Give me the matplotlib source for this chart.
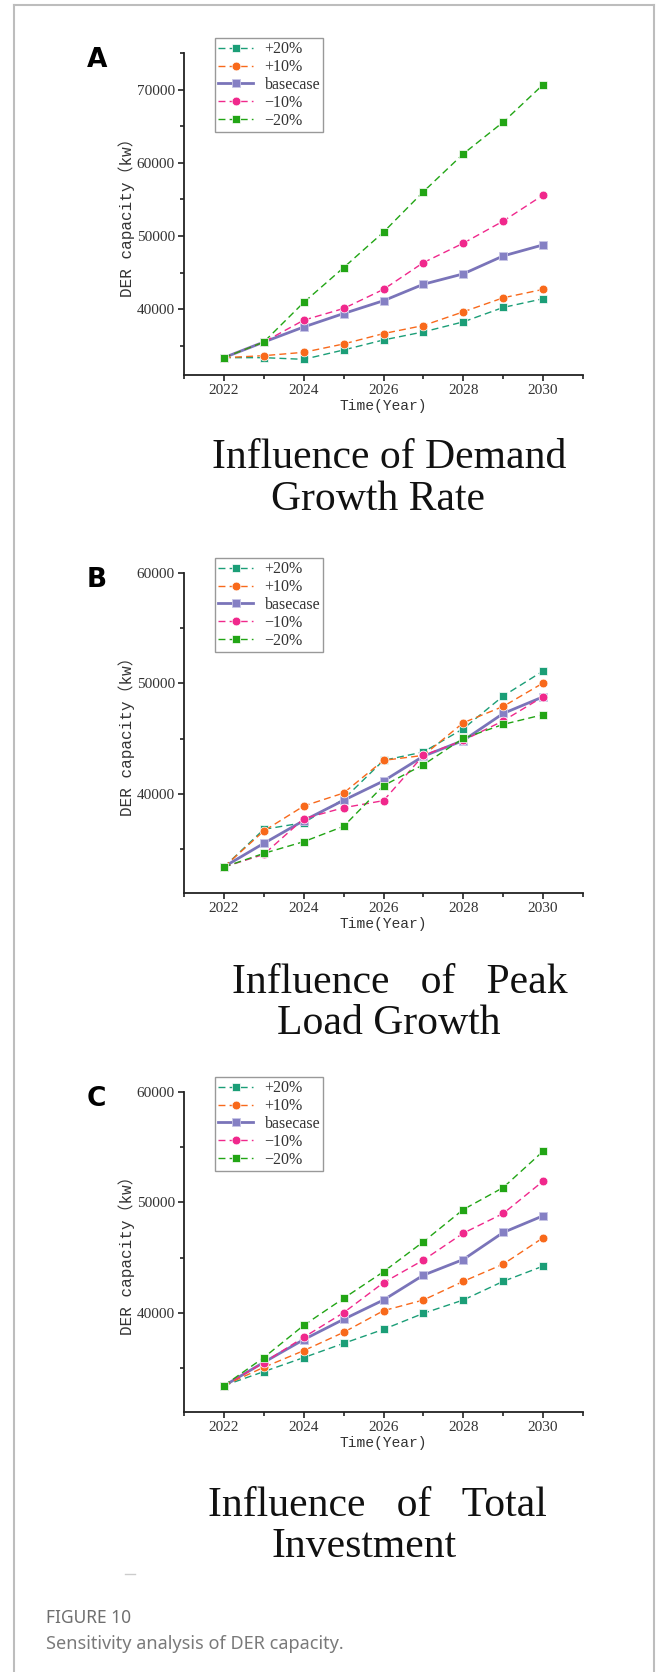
import matplotlib
matplotlib.use("Agg")
import matplotlib.pyplot as plt
from matplotlib.lines import Line2D
from matplotlib.ticker import MultipleLocator

# data
years = [2022, 2023, 2024, 2025, 2026, 2027, 2028, 2029, 2030]
labels = ["+20%", "+10%", "basecase", "\u221210%", "\u221220%"]
base_case = [33370, 35500, 37560, 39400, 41150, 43400, 44820, 47270, 48780]

# A - demand growth rate
a_p20 = [33370, 33370, 33140, 34420, 35790, 36890, 38260, 40230, 41420]
a_p10 = [33370, 33640, 34100, 35240, 36660, 37760, 39630, 41550, 42700]
a_m10 = [33370, 35500, 38490, 40090, 42700, 46360, 49010, 52030, 55590]
a_m20 = [33370, 35500, 40910, 45670, 50520, 56050, 61220, 65560, 70680]

# B - peak load growth
b_p20 = [33350, 36770, 37370, 39500, 43020, 43780, 45890, 48850, 51120]
b_p10 = [33350, 36620, 38880, 40060, 43020, 43470, 46430, 47910, 50030]
b_m10 = [33350, 34500, 37730, 38730, 39370, 43470, 44830, 46600, 48790]
b_m20 = [33350, 34590, 35650, 37040, 40730, 42630, 45010, 46280, 47160]

# C - total investment
c_p20 = [33390, 34660, 35930, 37220, 38490, 39940, 41150, 42840, 44220]
c_p10 = [33390, 35050, 36560, 38220, 40180, 41150, 42840, 44400, 46790]
c_m10 = [33390, 35470, 37770, 40000, 42720, 44770, 47210, 48990, 51920]
c_m20 = [33390, 35930, 38850, 41300, 43710, 46430, 49350, 51340, 54630]

panels = [
    ("A", [a_p20, a_p10, base_case, a_m10, a_m20], 75000,
     ["Influence of Demand", "Growth Rate"]),
    ("B", [b_p20, b_p10, base_case, b_m10, b_m20], 60000,
     ["Influence   of   Peak", "Load Growth"]),
    ("C", [c_p20, c_p10, base_case, c_m10, c_m20], 60000,
     ["Influence   of   Total", "Investment"]),
]

colors = ["#1b9e77", "#f8691b", "#7a74b9", "#f0288c", "#22a515"]
markers = ["s", "o", "s", "o", "s"]

W, H = 656, 1672
fig = plt.figure(figsize=(W / 100, H / 100), dpi=100)


def fx(px):
    return px / W


def fy(py):
    return 1 - py / H


# axes boxes in pixels
ax_left, ax_right = 184, 583
ax_tops = [53, 573, 1092]
ax_bottoms = [375, 893, 1412]
title_lines = [[(389, 468), (378, 510)], [(400, 993), (389, 1034)], [(377, 1516), (364, 1557)]]

serif = "Liberation Serif"
mono = ["Liberation Mono", "Noto Sans CJK SC"]

for i, (tag, series, ytop, title) in enumerate(panels):
    top, bot = ax_tops[i], ax_bottoms[i]
    h = bot - top
    ax = fig.add_axes([fx(ax_left), fy(bot), fx(ax_right - ax_left), h / H])

    for j, vals in enumerate(series):
        if j == 2:
            ax.plot(years, vals, color=colors[j], lw=2, marker="s", ms=6,
                    mfc="#8580c4", mec="#c8c5e6", mew=0.6, label=labels[j], zorder=3)
        else:
            ax.plot(years, vals, color=colors[j], lw=1, ls=(0, (5, 3)), marker=markers[j],
                    ms=6.3 if markers[j] == "o" else 6, mec="white", mew=0.5,
                    label=labels[j], zorder=3 + j)

    ax.set_xlim(2021, 2031)
    ax.set_ylim(31000, ytop)
    ax.xaxis.set_major_locator(MultipleLocator(2))
    ax.xaxis.set_minor_locator(MultipleLocator(1))
    ax.yaxis.set_major_locator(MultipleLocator(10000))
    ax.yaxis.set_minor_locator(MultipleLocator(5000))

    for s in ["top", "right"]:
        ax.spines[s].set_visible(False)
    for s in ["left", "bottom"]:
        ax.spines[s].set_linewidth(1.3)
        ax.spines[s].set_color("#222222")
    ax.tick_params(which="major", direction="out", length=4.5, width=1.2,
                   colors="#222222", labelsize=11, pad=2)
    ax.tick_params(which="minor", direction="out", length=3, width=1.2, colors="#222222")
    for lab in ax.get_xticklabels() + ax.get_yticklabels():
        lab.set_family(serif)
        lab.set_color("#333333")

    ax.set_ylabel("DER capacity\uff08kw\uff09", family=mono, fontsize=11.5, color="#333333")
    ax.yaxis.set_label_coords((135 - ax_left) / (ax_right - ax_left), 0.5)
    ax.set_xlabel("Time(Year)", family=mono, fontsize=10.5, color="#333333")
    ax.xaxis.set_label_coords(0.5, -(399 - 375) / h)

    leg = ax.legend(loc="upper left", bbox_to_anchor=((215 - ax_left) / (ax_right - ax_left),
                    1 + 15 / h), borderaxespad=0, frameon=True, fancybox=False,
                    framealpha=1, edgecolor="#999999", prop={"family": serif, "size": 11.5},
                    handlelength=2.2, handletextpad=0.7, labelspacing=0.12,
                    borderpad=0.2, numpoints=1)
    leg.get_frame().set_linewidth(1)
    for t in leg.get_texts():
        t.set_color("#333333")

    fig.text(fx(87), fy(top + 14), tag, fontsize=19, fontweight="bold",
             family="DejaVu Sans", ha="left", va="baseline")

    for (cx, by), line in zip(title_lines[i], title):
        fig.text(fx(cx), fy(by), line, family=serif, fontsize=30, ha="center",
                 va="baseline", color="#111111")

# card border
border = "#bdbdbd"
fig.add_artist(Line2D([fx(14), fx(14)], [fy(4.5), 0], color=border, lw=1.5))
fig.add_artist(Line2D([fx(654), fx(654)], [fy(4.5), 0], color=border, lw=1.5))
fig.add_artist(Line2D([fx(14), fx(654)], [fy(4.5), fy(4.5)], color=border, lw=1.5))
fig.add_artist(Line2D([fx(125), fx(135)], [fy(1574), fy(1574)], color="#cccccc", lw=1))

fig.text(fx(46), fy(1623), "FIGURE 10", family="Noto Sans", fontweight="bold",
         fontsize=12.5, color="#6f6f6f", ha="left", va="baseline")
fig.text(fx(46), fy(1649), "Sensitivity analysis of DER capacity.", family="Noto Sans",
         fontsize=13, color="#7a7a7a", ha="left", va="baseline")

fig.savefig("out.png", dpi=100)
